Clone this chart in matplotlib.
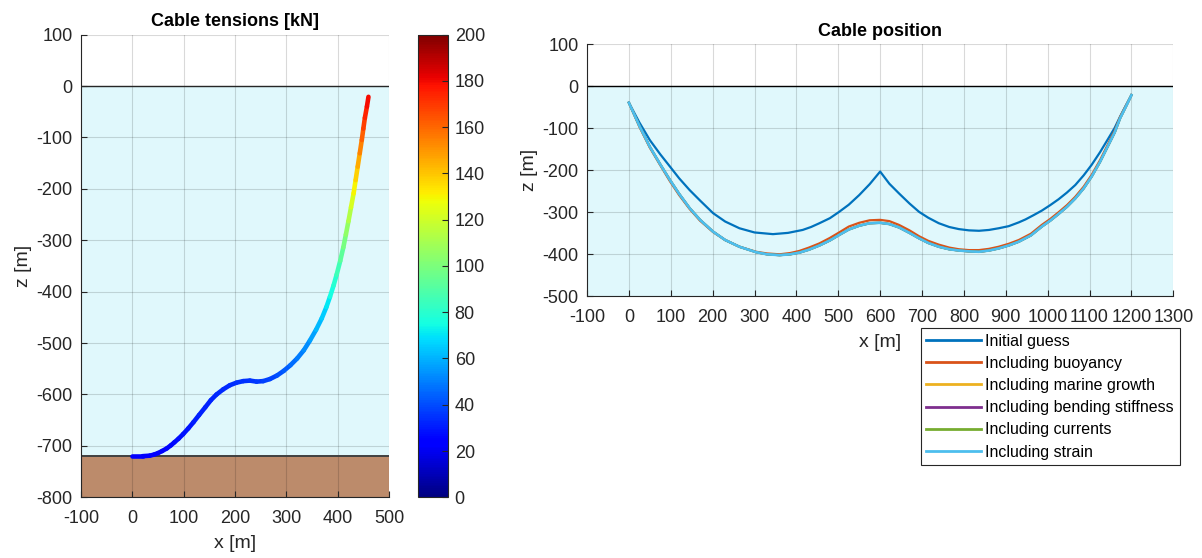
import matplotlib
matplotlib.use("Agg")
import matplotlib.pyplot as plt
import numpy as np
from matplotlib.collections import LineCollection
from matplotlib.colors import Normalize

plt.rcParams['font.family'] = ['Liberation Sans', 'DejaVu Sans']
plt.rcParams['axes.unicode_minus'] = False

# ---- left: cable shape and tension ----
cable_x = [0, 20, 34, 42, 50, 58, 67, 75, 82, 90, 99, 109, 119, 130, 142, 153, 164,
           177, 190, 203, 216, 229, 242, 255, 268, 282, 295, 308, 321, 334, 346, 358,
           369, 378, 385, 392, 398, 405, 411, 416, 421, 426, 431, 435, 439, 443, 447,
           450, 453, 457, 460]
cable_z = [-720, -720, -719, -717, -714, -710, -705, -699, -693, -686, -677, -666,
           -654, -640, -625, -611, -600, -590, -582, -577, -574, -573, -575, -574,
           -570, -563, -554, -543, -530, -514, -495, -474, -452, -430, -410, -388,
           -367, -340, -314, -289, -263, -236, -209, -183, -157, -131, -105, -83,
           -62, -40, -21]
tension = [24, 24, 24, 24, 25, 25, 26, 26, 27, 27, 28, 29, 30, 31, 32, 32, 33, 33,
           34, 34, 35, 35, 36, 37, 38, 40, 42, 45, 48, 51, 55, 59, 63, 68, 73, 77,
           82, 89, 96, 102, 108, 118, 126, 134, 142, 150, 158, 165, 172, 177, 182]
seabed_z = -720

# ---- right: cable position per model step ----
guess_x = [0, 25, 50, 75, 98, 120, 145, 170, 201, 230, 264, 300, 344, 380, 415, 435,
           455, 480, 502, 525, 550, 575, 600, 622, 645, 670, 693, 715, 740, 765, 788,
           812, 836, 860, 883, 907, 931, 947, 966, 986, 1006, 1026, 1046, 1066, 1086,
           1105, 1125, 1145, 1160, 1173, 1187, 1200]
guess_z = [-39, -86, -128, -162, -191, -219, -247, -272, -302, -322, -338, -348, -352,
           -349, -342, -335, -326, -314, -299, -282, -259, -233, -203, -232, -255,
           -279, -299, -313, -326, -335, -340, -343, -344, -342, -338, -333, -324,
           -317, -307, -296, -283, -269, -253, -235, -212, -187, -157, -124, -99,
           -72, -45, -21]

pos_x = [0, 25, 50, 75, 98, 120, 145, 170, 201, 230, 264, 304, 330, 360, 385, 407,
         430, 455, 480, 502, 525, 550, 575, 600, 622, 645, 670, 693, 715, 740, 765,
         788, 812, 836, 860, 883, 907, 931, 960, 986, 1006, 1026, 1046, 1066, 1086,
         1105, 1125, 1145, 1160, 1173, 1187, 1200]
strain_z = [-39, -94, -144, -186, -223, -256, -290, -318, -346, -366, -382, -395,
            -400, -402, -400, -396, -389, -379, -367, -354, -341, -332, -326, -325,
            -328, -336, -349, -362, -373, -382, -388, -391, -393, -394, -391, -386,
            -379, -370, -355, -334, -320, -304, -287, -267, -243, -215, -180, -140,
            -110, -76, -48, -21]
buoyancy_z = [-39, -96, -146, -188, -226, -259, -292, -320, -347, -366, -382, -394,
              -398, -400, -397, -392, -384, -374, -361, -348, -334, -325, -319, -318,
              -321, -330, -343, -357, -368, -377, -384, -388, -390, -390, -387, -382,
              -375, -366, -351, -330, -316, -300, -283, -263, -239, -211, -176, -136,
              -106, -73, -46, -21]
# marine growth, bending stiffness and currents lie under the strain curve
growth_z = list(strain_z)
bending_z = list(strain_z)
currents_z = list(strain_z)

series = [
    ("Initial guess", guess_x, guess_z, "#0072BD", 1.6),
    ("Including buoyancy", pos_x, buoyancy_z, "#D95319", 1.6),
    ("Including marine growth", pos_x, growth_z, "#EDB120", 1.6),
    ("Including bending stiffness", pos_x, bending_z, "#7E2F8E", 1.6),
    ("Including currents", pos_x, currents_z, "#77AC30", 1.6),
    ("Including strain", pos_x, strain_z, "#4DBEEE", 1.9),
]

water = "#E0F8FC"
soil = "#BC8B6B"

W, H = 1202, 558
fig = plt.figure(figsize=(W / 100, H / 100), dpi=100)


def box(l, t, r, b):
    return [l / W, 1 - b / H, (r - l) / W, (b - t) / H]


def style(ax):
    ax.set_axisbelow(True)
    ax.grid(True, color='k', alpha=0.15, linewidth=0.8)
    for s in ['top', 'right']:
        ax.spines[s].set_visible(False)
    for s in ['left', 'bottom']:
        ax.spines[s].set_linewidth(0.8)
        ax.spines[s].set_color('#262626')
    ax.tick_params(direction='in', length=4, labelsize=13, colors='#262626',
                   labelcolor='#262626')
    ax.tick_params(axis='x', pad=9)
    ax.tick_params(axis='y', pad=6)


# left panel
ax1 = fig.add_axes(box(81, 34.6, 389, 497.3))
style(ax1)
ax1.set_xlim(-100, 500)
ax1.set_ylim(-800, 100)
ax1.axhspan(seabed_z, 0, color=water, zorder=0.1, lw=0)
ax1.axhspan(-800, seabed_z, color=soil, zorder=0.1, lw=0)
ax1.axhline(0, color='#262626', lw=1.0, zorder=1)
ax1.axhline(seabed_z, color='#404040', lw=1.4, zorder=1)

pts = np.column_stack([cable_x, cable_z]).reshape(-1, 1, 2)
segs = np.concatenate([pts[:-1], pts[1:]], axis=1)
tmid = 0.5 * (np.array(tension[:-1]) + np.array(tension[1:]))
norm = Normalize(0, 200)
lc = LineCollection(segs, cmap='jet', norm=norm, linewidths=3.3, capstyle='round',
                    joinstyle='round', zorder=3)
lc.set_array(tmid)
ax1.add_collection(lc)
ax1.set_xticks(np.arange(-100, 501, 100))
ax1.set_yticks(np.arange(-800, 101, 100))
ax1.set_xlabel("x [m]", fontsize=14, color='#262626', labelpad=6)
ax1.set_ylabel("z [m]", fontsize=14, color='#262626', labelpad=3)
ax1.set_title("Cable tensions [kN]", fontsize=13, fontweight='bold', pad=6)

cax = fig.add_axes(box(418.3, 34.6, 447.7, 497.3))
cb = fig.colorbar(lc, cax=cax, ticks=np.arange(0, 201, 20))
cb.outline.set_linewidth(0.8)
cb.outline.set_edgecolor('#262626')
cax.tick_params(direction='in', length=4, labelsize=13, colors='#262626',
                labelcolor='#262626', pad=5)

# right panel
ax2 = fig.add_axes(box(587, 44.3, 1173.3, 296.3))
style(ax2)
ax2.set_xlim(-100, 1300)
ax2.set_ylim(-500, 100)
ax2.axhspan(-500, 0, color=water, zorder=0.1, lw=0)
ax2.axhline(0, color='k', lw=1.0, zorder=1)
for name, xs, zs, col, lw in series:
    ax2.plot(xs, zs, color=col, lw=lw, label=name, zorder=3)
ax2.set_xticks(np.arange(-100, 1301, 100))
ax2.set_yticks(np.arange(-500, 101, 100))
ax2.set_xlabel("x [m]", fontsize=14, color='#262626', labelpad=6)
ax2.set_ylabel("z [m]", fontsize=14, color='#262626', labelpad=3)
ax2.set_title("Cable position", fontsize=13, fontweight='bold', pad=6)

leg = ax2.legend(loc='upper left', bbox_to_anchor=(920.7 / W, 1 - 328 / H),
                 bbox_transform=fig.transFigure, fontsize=11.5, frameon=True,
                 fancybox=False, edgecolor='#262626', framealpha=1,
                 handlelength=3.4, handletextpad=0.3, labelspacing=0.45,
                 borderpad=0.35, borderaxespad=0)
leg.get_frame().set_linewidth(0.8)
for h in leg.get_lines():
    h.set_linewidth(2)

fig.savefig("out.png", dpi=100)
